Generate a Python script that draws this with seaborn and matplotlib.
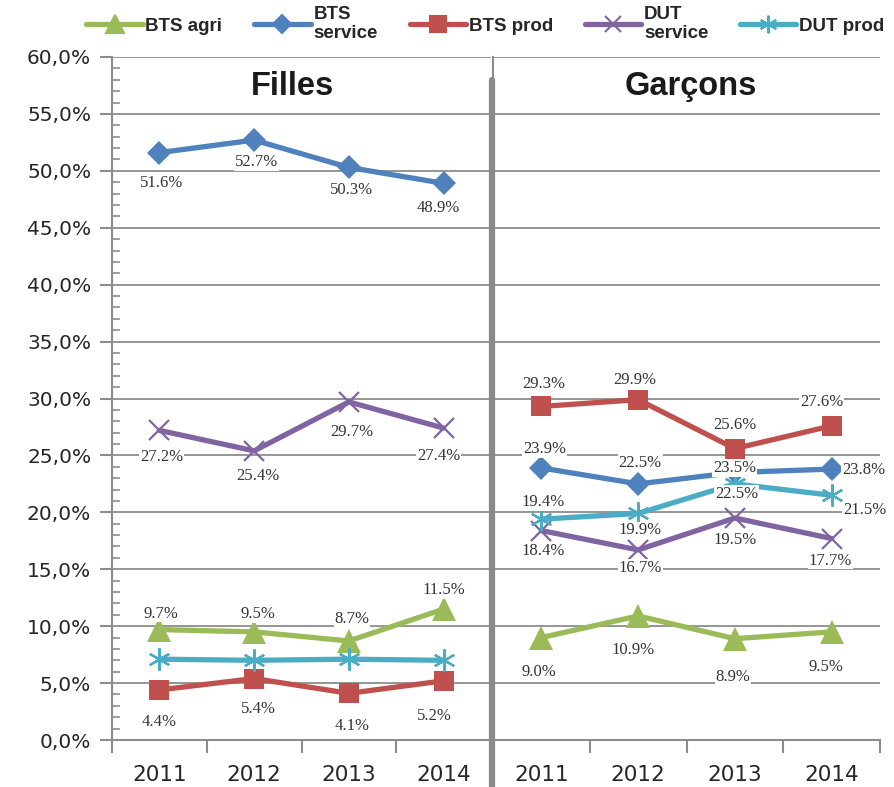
import pandas as pd
import seaborn as sns
import matplotlib.pyplot as plt
from matplotlib.lines import Line2D
from matplotlib.ticker import MultipleLocator, FuncFormatter

# data
years = ['2011', '2012', '2013', '2014']
series = ['BTS agri', 'BTS service', 'BTS prod', 'DUT service', 'DUT prod']
legend_labels = ['BTS agri', 'BTS\nservice', 'BTS prod', 'DUT\nservice', 'DUT prod']
groups = ['Filles', 'Garçons']

filles_bts_agri = [9.7, 9.5, 8.7, 11.5]
filles_bts_service = [51.6, 52.7, 50.3, 48.9]
filles_bts_prod = [4.4, 5.4, 4.1, 5.2]
filles_dut_service = [27.2, 25.4, 29.7, 27.4]
filles_dut_prod = [7.1, 7.0, 7.1, 7.0]

garcons_bts_agri = [9.0, 10.9, 8.9, 9.5]
garcons_bts_service = [23.9, 22.5, 23.5, 23.8]
garcons_bts_prod = [29.3, 29.9, 25.6, 27.6]
garcons_dut_service = [18.4, 16.7, 19.5, 17.7]
garcons_dut_prod = [19.4, 19.9, 22.5, 21.5]

values = {
    'Filles': [filles_bts_agri, filles_bts_service, filles_bts_prod,
               filles_dut_service, filles_dut_prod],
    'Garçons': [garcons_bts_agri, garcons_bts_service, garcons_bts_prod,
                garcons_dut_service, garcons_dut_prod],
}
show_labels = {'Filles': [True, True, True, True, False],
               'Garçons': [True, True, True, True, True]}

rows = []
for g in groups:
    for s, vals in zip(series, values[g]):
        for y, v in zip(years, vals):
            rows.append({'group': g, 'serie': s, 'year': y, 'value': v})
df = pd.DataFrame(rows)
df['x'] = df['year'].map({y: i for i, y in enumerate(years)})

# styles
colors = {'BTS agri': '#9BBB59', 'BTS service': '#4F81BD', 'BTS prod': '#C0504D',
          'DUT service': '#8064A2', 'DUT prod': '#4BACC6'}
markers = {'BTS agri': '^', 'BTS service': 'D', 'BTS prod': 's',
           'DUT service': 'x', 'DUT prod': (6, 2, 0)}
msizes = {'BTS agri': 17, 'BTS service': 12, 'BTS prod': 15,
          'DUT service': 15, 'DUT prod': 16}
title_x = {'Filles': 0.477, 'Garçons': 0.51}

# label offsets in pixels (dx, dy up)
offsets = {
    'Filles': [[(2, 16), (4, 18), (3, 22), (0, 19)],
               [(2, -30), (2, -22), (3, -23), (-5, -25)],
               [(0, -32), (4, -30), (3, -33), (-9, -35)],
               [(2, -27), (4, -25), (3, -30), (-5, -28)],
               None],
    'Garçons': [[(-2, -34), (-5, -34), (-2, -38), (-6, -35)],
                [(3, 19), (2, 21), (0, 4), (32, -1)],
                [(2, 22), (-3, 20), (0, 24), (-10, 24)],
                [(2, -20), (2, -18), (0, -22), (-1, -22)],
                [(2, 17), (2, -17), (2, -10), (33, -15)]],
}

sns.set_style('white')
plt.rcParams['font.family'] = ['DejaVu Sans']
grid_col = '#8c8c8c'

fig = plt.figure(figsize=(8.94, 7.87), dpi=100)
ax1 = fig.add_axes([112 / 894, 47 / 787, 379 / 894, 683 / 787])
ax2 = fig.add_axes([493 / 894, 47 / 787, 387 / 894, 683 / 787], sharey=ax1)

for ax, g in zip([ax1, ax2], groups):
    sub = df[df['group'] == g]
    for i, s in enumerate(series):
        d = sub[sub['serie'] == s]
        filled = s in ('BTS agri', 'BTS service', 'BTS prod')
        sns.lineplot(data=d, x='x', y='value', ax=ax, color=colors[s],
                     linewidth=3.8, marker=markers[s], markersize=msizes[s],
                     markeredgewidth=1.6 if not filled else 0,
                     markeredgecolor=colors[s], zorder=3 + i)
        if show_labels[g][i]:
            for (xv, yv), (dx, dy) in zip(zip(d['x'], d['value']), offsets[g][i]):
                ax.annotate(f'{yv:.1f}%', (xv, yv), xytext=(dx, dy),
                            textcoords='offset pixels', ha='center', va='center',
                            fontsize=12, family='Liberation Serif', color='#333333',
                            bbox=dict(boxstyle='square,pad=0.05', fc='white', ec='none'),
                            zorder=10)
    ax.set_xlim(-0.5, 3.5)
    ax.set_ylim(0, 60)
    ax.set_xticks(range(4))
    ax.set_xticklabels(years, fontsize=15.5)
    ax.set_xticks([-0.5, 0.5, 1.5, 2.5, 3.5], minor=True)
    ax.tick_params(axis='x', which='major', length=0, pad=18)
    ax.tick_params(axis='x', which='minor', length=9, width=1.5, color=grid_col,
                   direction='out', bottom=True)
    ax.set_xlabel('')
    ax.set_ylabel('')
    ax.grid(axis='y', color=grid_col, linewidth=1.3)
    ax.set_axisbelow(True)
    for sp in ['top', 'right']:
        ax.spines[sp].set_visible(False)
    ax.spines['bottom'].set_color(grid_col)
    ax.spines['bottom'].set_linewidth(1.5)
    ax.spines['left'].set_color(grid_col)
    ax.spines['left'].set_linewidth(1.5)
    ax.text(title_x[g], 0.957, g, transform=ax.transAxes, ha='center', va='center',
            fontsize=23.5, fontweight='bold', family='Liberation Sans', color='#1a1a1a')

ax1.yaxis.set_major_locator(MultipleLocator(5))
ax1.yaxis.set_minor_locator(MultipleLocator(1))
ax1.yaxis.set_major_formatter(FuncFormatter(lambda v, p: f'{v:.1f}%'.replace('.', ',')))
ax1.tick_params(axis='y', which='major', length=9, width=1.5, color=grid_col,
                direction='out', left=True, labelsize=14.5, pad=6)
ax1.tick_params(axis='y', which='minor', length=6, width=1.2, color=grid_col,
                direction='in', left=True)
ax2.tick_params(axis='y', which='both', left=False, labelleft=False)

# thick separator between the panels
fig.add_artist(Line2D([491.5 / 894] * 2, [1 - 80 / 787, 1 - 787 / 787],
                      transform=fig.transFigure, lw=4.5, color='#8a8a8a'))

handles = [Line2D([], [], color=colors[s], lw=3.8, marker=markers[s],
                  markersize=msizes[s] * 0.8, markeredgewidth=1.5,
                  markeredgecolor=colors[s]) for s in series]
fig.legend(handles, legend_labels, loc='upper center', bbox_to_anchor=(0.543, 1.014),
           ncol=5, frameon=False, handlelength=3.0, handletextpad=0.15,
           columnspacing=1.7, prop={'family': 'Liberation Sans', 'weight': 'bold',
                                    'size': 13.5}, labelspacing=0)

fig.savefig('out.png', dpi=100)
